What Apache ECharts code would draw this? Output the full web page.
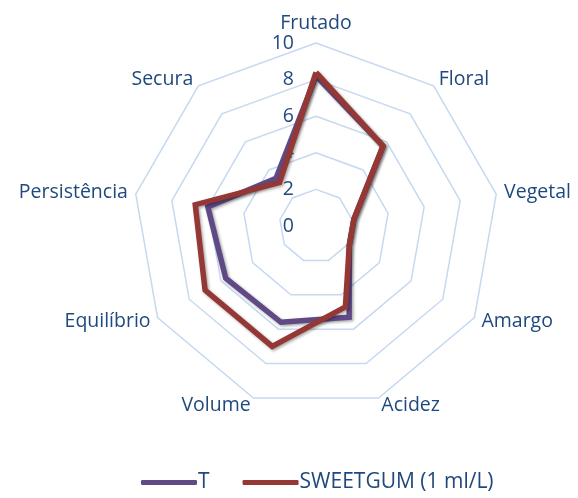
<!DOCTYPE html>
<html><head><meta charset="utf-8">
<script src="https://cdn.jsdelivr.net/npm/echarts@6/dist/echarts.min.js"></script>
<style>html,body{margin:0;padding:0;background:#fff}#c{width:578px;height:498px}</style>
</head><body><div id="c"></div>
<script>
// categories in clockwise order from top
var categories = ['Frutado','Floral','Vegetal','Amargo','Acidez','Volume','Equilíbrio','Persistência','Secura'];
var seriesT = [8.2, 5.7, 2.1, 2.1, 5.3, 5.6, 5.7, 6.0, 3.4];
var seriesSweet = [8.4, 5.7, 2.1, 2.1, 4.7, 7.0, 7.0, 6.7, 3.1];
var seriesNames = ['T', 'SWEETGUM (1 ml/L)'];
var tickLabels = ['0','2','4','6','8','10'];

// ECharts radar goes counter-clockwise; reorder so the layout runs clockwise
function cw(arr){ return [arr[0]].concat(arr.slice(1).reverse()); }

var cats = cw(categories);
var indicator = cats.map(function(n, i){
  var o = {name: n, min: 0, max: 10};
  if (i === 0) o.axisLabel = {show: true};
  return o;
});

var chart = echarts.init(document.getElementById('c'));
var font = 'Open Sans';
chart.setOption({
  animation: false,
  legend: {
    bottom: 0, left: 136,
    data: seriesNames,
    icon: 'roundRect', itemWidth: 56, itemHeight: 5, itemGap: 33,
    textStyle: {color: '#1F497D', fontSize: 21, fontFamily: font, padding: [0,0,0,-4]}
  },
  radar: {
    center: [316, 226], radius: 183,
    startAngle: 90, splitNumber: 5,
    shape: 'polygon',
    indicator: indicator,
    axisName: {color: '#1F497D', fontSize: 19.5, fontFamily: font},
    nameGap: 8,
    splitLine: {lineStyle: {color: '#C6D9F1', width: 1.5}},
    splitArea: {show: false},
    axisLine: {show: false},
    axisTick: {show: false},
    axisLabel: {show: false, color: '#1F497D', fontSize: 19.5, fontFamily: font, margin: 22,
      formatter: function(v){ return tickLabels[Math.round(v/2)]; }}
  },
  series: [{
    type: 'radar',
    symbol: 'none',
    data: [
      {name: seriesNames[0], value: cw(seriesT),
       lineStyle: {color: '#5F4A85', width: 5.5, join: 'miter', shadowColor: 'rgba(0,0,0,0.35)', shadowBlur: 3, shadowOffsetX: 1.5, shadowOffsetY: 1.5},
       itemStyle: {color: '#5F4A85'}},
      {name: seriesNames[1], value: cw(seriesSweet),
       lineStyle: {color: '#953735', width: 5.5, join: 'miter', shadowColor: 'rgba(0,0,0,0.35)', shadowBlur: 3, shadowOffsetX: 1.5, shadowOffsetY: 1.5},
       itemStyle: {color: '#953735'}}
    ]
  }]
});
</script></body></html>
